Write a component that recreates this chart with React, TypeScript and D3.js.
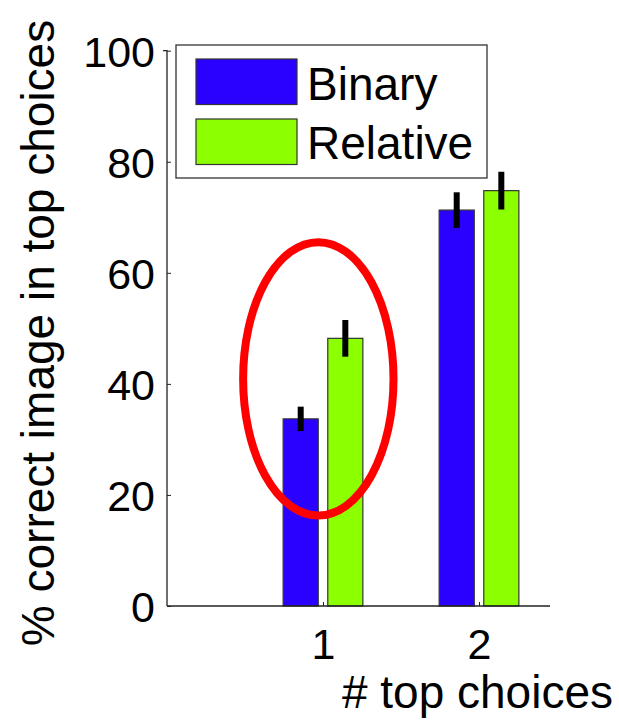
import { select, scaleLinear, axisLeft, axisBottom, format } from "d3";
import React, { useEffect, useRef } from "react";

const categories = [1, 2];
const seriesNames = ["Binary", "Relative"];
const binaryValues = [33.7, 71.3];
const relativeValues = [48.2, 74.8];
const binaryErrors = [2.2, 3.2];
const relativeErrors = [3.3, 3.4];
const seriesColors = ["#2a00ff", "#8cff00"];
const yTicks = [0, 20, 40, 60, 80, 100];

// red ellipse drawn around the first group (data units)
const highlight = { cx: 0.97, cy: 40.9, rx: 0.482, ry: 24.6 };

const WIDTH = 619;
const HEIGHT = 720;
const FONT = "'Liberation Sans', Arial, Helvetica, sans-serif";

function App() {
  const svgRef = useRef(null);

  useEffect(() => {
    const svg = select(svgRef.current);
    svg.selectAll("*").remove();

    const xScale = scaleLinear().domain([0, 2.455]).range([167, 550]);
    const yScale = scaleLinear().domain([0, 100]).range([606, 50.7]);

    const barWidth = 0.225;
    const offsets = [-0.143, 0.143];
    const series = [binaryValues, relativeValues];
    const errors = [binaryErrors, relativeErrors];

    // bars
    series.forEach((values, s) => {
      svg
        .append("g")
        .selectAll("rect")
        .data(values)
        .join("rect")
        .attr("x", (d, i) => xScale(categories[i] + offsets[s] - barWidth / 2))
        .attr("width", xScale(barWidth) - xScale(0))
        .attr("y", (d) => yScale(d))
        .attr("height", (d) => yScale(0) - yScale(d))
        .attr("fill", seriesColors[s])
        .attr("stroke", "#333")
        .attr("stroke-width", 1.2);
    });

    // error bars
    series.forEach((values, s) => {
      svg
        .append("g")
        .selectAll("line")
        .data(values)
        .join("line")
        .attr("x1", (d, i) => xScale(categories[i] + offsets[s]))
        .attr("x2", (d, i) => xScale(categories[i] + offsets[s]))
        .attr("y1", (d, i) => yScale(d + errors[s][i]))
        .attr("y2", (d, i) => yScale(d - errors[s][i]))
        .attr("stroke", "#000")
        .attr("stroke-width", 6);
    });

    // axes
    const yAxis = svg
      .append("g")
      .attr("transform", `translate(${xScale(0)},0)`)
      .call(axisLeft(yScale).tickValues(yTicks).tickSize(-4).tickPadding(14));
    yAxis.select(".domain").attr("d", `M-4,${yScale(100)}H0V${yScale(0)}`);
    yAxis.selectAll("line").attr("stroke", "#222");
    yAxis.select(".domain").attr("stroke", "#222").attr("stroke-width", 1.3);
    yAxis
      .selectAll("text")
      .attr("font-family", FONT)
      .attr("font-size", 43)
      .attr("fill", "#000")
      .attr("x", -12)
      .attr("dy", "0.36em");
    yAxis.selectAll(".tick").filter((d) => d === 100).select("line").attr("x2", 4);

    const xAxis = svg
      .append("g")
      .attr("transform", `translate(0,${yScale(0)})`)
      .call(
        axisBottom(xScale)
          .tickValues(categories)
          .tickFormat(format("d"))
          .tickSize(-4)
          .tickPadding(14)
      );
    xAxis.select(".domain").attr("d", `M${xScale(0)},0H550`).attr("stroke", "#222").attr("stroke-width", 1.3);
    xAxis.selectAll("line").attr("stroke", "#222");
    xAxis
      .selectAll("text")
      .attr("font-family", FONT)
      .attr("font-size", 43)
      .attr("fill", "#000")
      .attr("y", 53)
      .attr("dy", 0);

    // axis labels
    svg
      .append("text")
      .attr("x", 613)
      .attr("y", 708)
      .attr("text-anchor", "end")
      .attr("font-family", FONT)
      .attr("font-size", 46)
      .text("# top choices");

    svg
      .append("text")
      .attr("transform", "translate(54,333) rotate(-90)")
      .attr("text-anchor", "middle")
      .attr("font-family", FONT)
      .attr("font-size", 46)
      .text("% correct image in top choices");

    // highlight ellipse
    svg
      .append("ellipse")
      .attr("cx", xScale(highlight.cx))
      .attr("cy", yScale(highlight.cy))
      .attr("rx", xScale(highlight.rx) - xScale(0))
      .attr("ry", yScale(0) - yScale(highlight.ry))
      .attr("fill", "none")
      .attr("stroke", "#ff0000")
      .attr("stroke-width", 8);

    // legend
    const legend = svg.append("g");
    legend
      .append("rect")
      .attr("x", 176)
      .attr("y", 45)
      .attr("width", 311)
      .attr("height", 133)
      .attr("fill", "#fff")
      .attr("stroke", "#333")
      .attr("stroke-width", 1.3);
    seriesNames.forEach((name, i) => {
      legend
        .append("rect")
        .attr("x", 196)
        .attr("y", 59 + i * 60)
        .attr("width", 101)
        .attr("height", 45.5)
        .attr("fill", seriesColors[i])
        .attr("stroke", "#333")
        .attr("stroke-width", 1.2);
      legend
        .append("text")
        .attr("x", 307)
        .attr("y", 99.5 + i * 59.5)
        .attr("font-family", FONT)
        .attr("font-size", 46)
        .text(name);
    });
  }, []);

  return (
    <svg
      ref={svgRef}
      width={WIDTH}
      height={HEIGHT}
      style={{ position: "absolute", left: 0, top: 0, background: "#fff" }}
    />
  );
}

export default App;
